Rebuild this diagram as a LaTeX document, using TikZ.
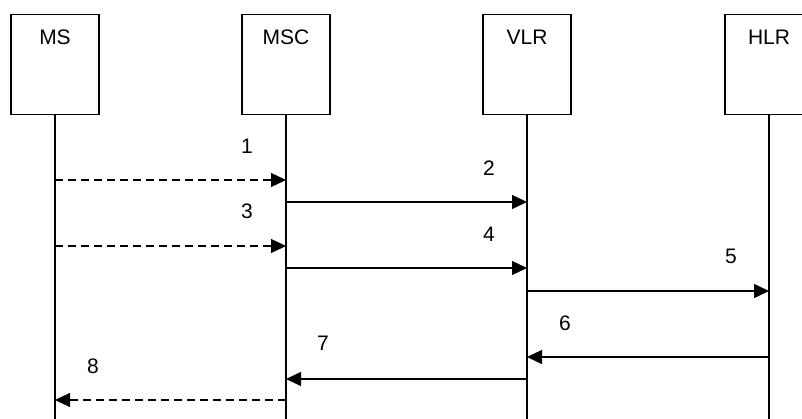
\documentclass[tikz,border=0pt]{standalone}
\usepackage{fontspec}
\setmainfont{Liberation Sans}
\usetikzlibrary{arrows.meta}
\begin{document}
\begin{tikzpicture}[x=1pt,y=-1pt,
  entity/.style={draw, line width=1.5pt, minimum width=88pt, minimum height=100pt, anchor=north, inner sep=0pt},
  ename/.style={anchor=center, yshift=-23pt, font=\fontsize{21}{24}\selectfont},
  lifeline/.style={line width=1.3pt},
  msg/.style={line width=1.3pt, -{Triangle[length=15pt,width=14pt]}},
  dmsg/.style={msg, dash pattern=on 8pt off 5pt},
  num/.style={font=\fontsize{21}{24}\selectfont}]
\useasboundingbox (0,0) rectangle (802,419);
\clip (0,0) rectangle (802,419);
% entities
\node[entity, label={[ename]north:MS}] (ms) at (55,14) {};
\node[entity, label={[ename]north:MSC}] (msc) at (286,14) {};
\node[entity, label={[ename]north:VLR}] (vlr) at (527,14) {};
\node[entity, label={[ename]north:HLR}] (hlr) at (769,14) {};
% lifeline ends
\coordinate (msE) at (55,419);
\coordinate (mscE) at (286,419);
\coordinate (vlrE) at (527,419);
\coordinate (hlrE) at (769,419);
\draw[lifeline] (ms.south) -- (msE);
\draw[lifeline] (msc.south) -- (mscE);
\draw[lifeline] (vlr.south) -- (vlrE);
\draw[lifeline] (hlr.south) -- (hlrE);
% message points
\coordinate (ms1) at (55,180);   \coordinate (msc1) at (286,180);
\coordinate (msc2) at (286,202); \coordinate (vlr2) at (527,202);
\coordinate (ms3) at (55,246);   \coordinate (msc3) at (286,246);
\coordinate (msc4) at (286,268); \coordinate (vlr4) at (527,268);
\coordinate (vlr5) at (527,291); \coordinate (hlr5) at (769,291);
\coordinate (hlr6) at (769,357); \coordinate (vlr6) at (527,357);
\coordinate (vlr7) at (527,379); \coordinate (msc7) at (286,379);
\coordinate (msc8) at (286,400); \coordinate (ms8) at (55,400);
% messages
\draw[dmsg] (ms1) -- (msc1);
\draw[msg] (msc2) -- (vlr2);
\draw[dmsg] (ms3) -- (msc3);
\draw[msg] (msc4) -- (vlr4);
\draw[msg] (vlr5) -- (hlr5);
\draw[msg] (hlr6) -- (vlr6);
\draw[msg] (vlr7) -- (msc7);
\draw[dmsg] (msc8) -- (ms8);
% labels
\node[num] (n1) at (247,146) {1};
\node[num] (n2) at (489,168) {2};
\node[num] (n3) at (247,211) {3};
\node[num] (n4) at (489,234) {4};
\node[num] (n5) at (731,256) {5};
\node[num] (n6) at (565,323) {6};
\node[num] (n7) at (323,343) {7};
\node[num] (n8) at (93,366) {8};
\end{tikzpicture}
\end{document}
